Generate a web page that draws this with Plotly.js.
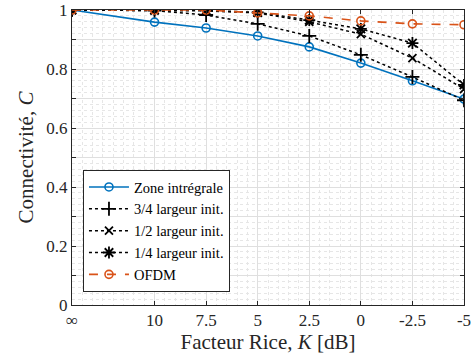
<!DOCTYPE html>
<html>
<head>
<meta charset="utf-8">
<script src="https://cdn.plot.ly/plotly-3.0.1.min.js"></script>
<style>html,body{margin:0;padding:0;background:#fff}#chart{width:475px;height:362px}</style>
</head>
<body>
<div id="chart"></div>
<script>
// K positions (∞ drawn at 14 dB position) and labels
const kPos = [14, 10, 7.5, 5, 2.5, 0, -2.5, -5];
const kLabels = ['∞', '10', '7.5', '5', '2.5', '0', '-2.5', '-5'];

const zoneIntegrale = [1.0, 0.959, 0.939, 0.912, 0.875, 0.820, 0.760, 0.698];
const largeur34 = [1.0, 0.998, 0.983, 0.953, 0.912, 0.848, 0.773, 0.694];
const largeur12 = [1.0, 0.999, 0.997, 0.990, 0.960, 0.918, 0.837, 0.732];
const largeur14 = [1.0, 1.0, 0.999, 0.992, 0.966, 0.936, 0.888, 0.746];
const ofdm = [1.0, 1.0, 1.0, 0.990, 0.980, 0.963, 0.953, 0.950];

const yTickVals = [0, 0.1, 0.2, 0.3, 0.4, 0.5, 0.6, 0.7, 0.8, 0.9, 1];
const yTickText = ['0', '', '0.2', '', '0.4', '', '0.6', '', '0.8', '', '1'];

const blue = '#0072BD', orange = '#D95319';
const font = '"Liberation Serif", "Times New Roman", serif';

const traces = [
  {x: kPos, y: zoneIntegrale, name: 'Zone intrégrale', mode: 'lines+markers',
   line: {color: blue, width: 1.6},
   marker: {symbol: 'circle-open', size: 8, color: blue, line: {width: 1.6}}},
  {x: kPos, y: largeur34, name: '3/4 largeur init.', mode: 'lines+markers',
   line: {color: '#000', width: 1.5, dash: 'dot'},
   marker: {symbol: 'cross-thin-open', size: 10, color: '#000', line: {width: 1.8, color: '#000'}}},
  {x: kPos, y: largeur12, name: '1/2 largeur init.', mode: 'lines+markers',
   line: {color: '#000', width: 1.5, dash: 'dot'},
   marker: {symbol: 'x-thin-open', size: 8, color: '#000', line: {width: 1.8, color: '#000'}}},
  {x: kPos, y: largeur14, name: '1/4 largeur init.', mode: 'lines+markers',
   line: {color: '#000', width: 1.5, dash: 'dot'},
   marker: {symbol: 'asterisk-open', size: 10, color: '#000', line: {width: 1.8, color: '#000'}}},
  {x: kPos, y: ofdm, name: 'OFDM', mode: 'lines+markers',
   line: {color: orange, width: 1.6, dash: 'dash'},
   marker: {symbol: 'circle-open', size: 8, color: orange, line: {width: 1.6}}}
];

const layout = {
  width: 475, height: 362,
  margin: {l: 72, r: 11, t: 10, b: 57},
  paper_bgcolor: '#fff', plot_bgcolor: '#fff',
  font: {family: font, size: 17, color: '#262626'},
  showlegend: true,
  legend: {x: 0.028, y: 0.044, xanchor: 'left', yanchor: 'bottom',
           bgcolor: '#fff', bordercolor: '#262626', borderwidth: 1,
           font: {family: font, size: 14.5, color: '#000'},
           tracegroupgap: 0, itemwidth: 40},
  xaxis: {
    range: [14, -5], tickmode: 'array', tickvals: kPos, ticktext: kLabels,
    showline: true, mirror: 'ticks', linecolor: '#262626', linewidth: 1,
    ticks: 'inside', ticklen: 4, tickcolor: '#262626',
    showgrid: true, gridcolor: '#dfdfdf', gridwidth: 1, zeroline: false,
    minor: {dtick: 0.5, tick0: 0, showgrid: true, gridcolor: '#e6e6e6', griddash: 'dot', gridwidth: 1, ticks: ''},
    title: {text: 'Facteur Rice, <i>K</i> [dB]', font: {family: font, size: 21, color: '#262626'}, standoff: 3},
    tickfont: {family: font, size: 17}
  },
  yaxis: {
    range: [0, 1], tickmode: 'array', tickvals: yTickVals, ticktext: yTickText,
    showline: true, mirror: 'ticks', linecolor: '#262626', linewidth: 1,
    ticks: 'inside', ticklen: 4, tickcolor: '#262626',
    showgrid: true, gridcolor: '#dfdfdf', gridwidth: 1, zeroline: false,
    minor: {dtick: 0.02, tick0: 0, showgrid: true, gridcolor: '#e6e6e6', griddash: 'dot', gridwidth: 1, ticks: ''},
    title: {text: 'Connectivité, <i>C</i>', font: {family: font, size: 21, color: '#262626'}, standoff: 6},
    tickfont: {family: font, size: 17}
  }
};

Plotly.newPlot('chart', traces, layout, {displayModeBar: false, staticPlot: true});
</script>
</body>
</html>
